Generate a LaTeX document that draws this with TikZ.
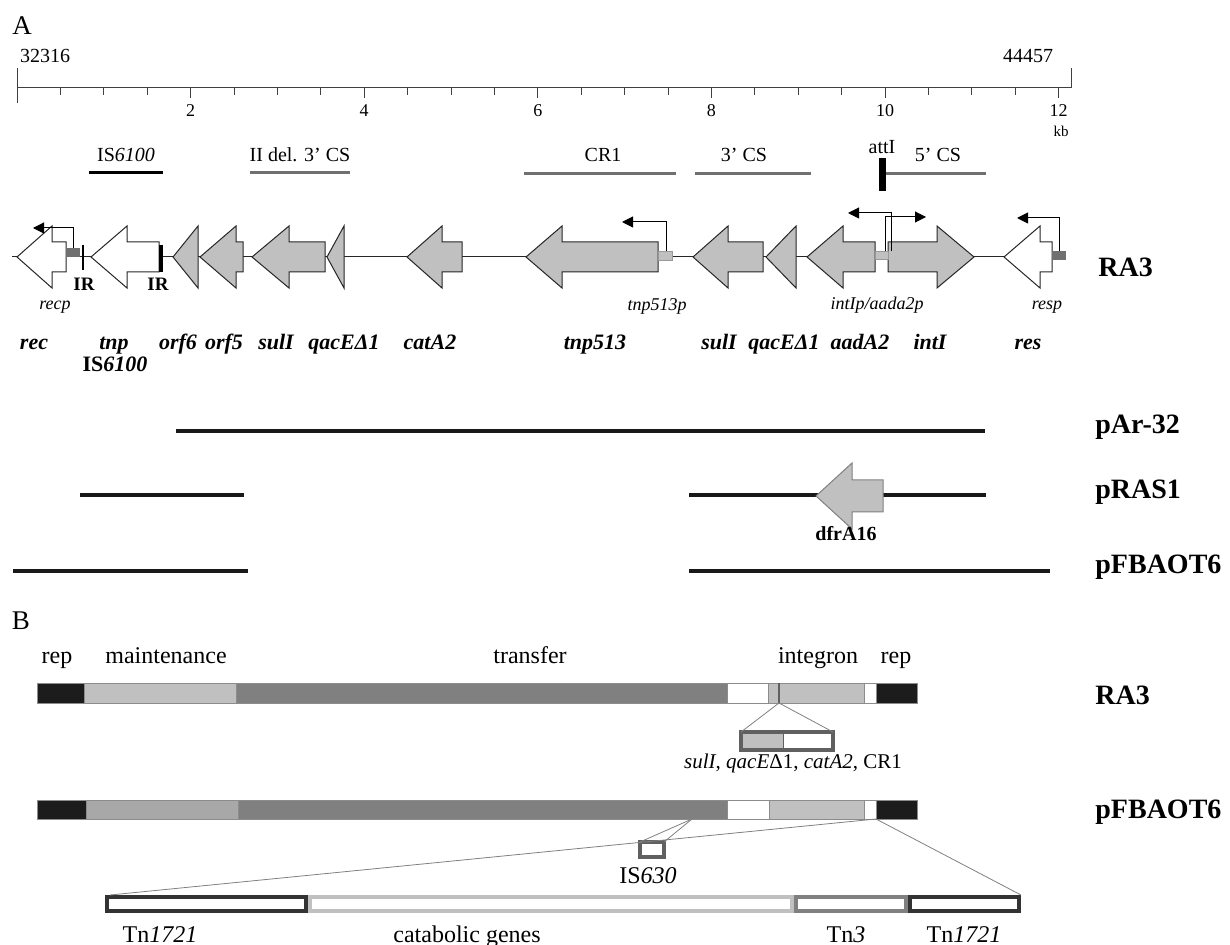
\documentclass[tikz,border=0pt]{standalone}
\usepackage{fontspec}
\setmainfont{Liberation Serif}
\usetikzlibrary{arrows.meta}
\usetikzlibrary{calc}

\definecolor{genegray}{HTML}{C0C0C0}
\definecolor{csgray}{HTML}{707070}
\definecolor{midgray}{HTML}{A8A8A8}
\definecolor{trgray}{HTML}{808080}
\definecolor{boxgray}{HTML}{606060}
\definecolor{tngray}{HTML}{333333}
\definecolor{repblack}{HTML}{1C1C1C}

\begin{document}
\begin{tikzpicture}[x=0.5pt,y=-0.5pt,
    every node/.style={inner sep=0pt,anchor=base},
    panel/.style={font=\fontsize{13.5}{16}\selectfont},
    endlab/.style={font=\fontsize{10}{12}\selectfont},
    ticklab/.style={font=\fontsize{9}{11}\selectfont},
    reglab/.style={font=\fontsize{10}{12}\selectfont},
    genelab/.style={font=\fontsize{11}{13}\selectfont\bfseries\itshape},
    promlab/.style={font=\fontsize{9}{11}\selectfont\itshape},
    irlab/.style={font=\fontsize{9.5}{11}\selectfont\bfseries},
    rowlab/.style={font=\fontsize{14}{16}\selectfont\bfseries,anchor=base west},
    seglab/.style={font=\fontsize{12}{14}\selectfont},
    axis/.style={draw=black!75,line width=0.5pt},
    regbar/.style={line width=1.5pt},
    gene/.style={draw=black!85,line width=0.5pt},
    prom/.style={line width=0.5pt,-{Triangle[length=5.5pt,width=5.5pt]}},
    cmpline/.style={line width=2.4pt,draw=black!90},
    seg/.style={draw=black!45,line width=0.5pt},
    zoomline/.style={draw=black!50,line width=0.4pt},
    framebox/.style={line width=1.6pt,draw=boxgray},
    tnbox/.style={line width=2pt,fill=white}
  ]

  \useasboundingbox (0,0) rectangle (1230,945);

  % panel letters
  \node[panel] (pA) at (22,35) {A};
  \node[panel] (pB) at (21,629) {B};

  % ruler
  \draw[axis] (17,68) -- (17,103);
  \draw[axis] (17,88) -- (1071,88) -- (1071,68);
  \node[endlab] (first) at (45,63) {32316};
  \node[endlab] (last) at (1028,63) {44457};

  % minor ticks, every 0.5 kb
  \foreach \k in {1,...,24}
    \draw[axis] ({17+43.4*\k},88) -- ({17+43.4*\k},95);

  % major ticks
  \foreach \k in {2,4,...,12}
  {
    \draw[axis] ({17+86.8*\k},88) -- ({17+86.8*\k},98);
    \node[ticklab] (t\k) at ({17+86.8*\k},117) {\k};
  }
  \node[ticklab,font=\fontsize{7.5}{9}\selectfont] (kb) at (1061,137) {kb};

  % regions
  \draw[regbar,black] (89,173) -- (163,173);
  \node[reglab] (is) at (126,162) {IS\textit{6100}};
  \draw[regbar,csgray] (250,173) -- (350,173);
  \node[reglab] (del) at (300,162) {II del. 3’ CS};
  \draw[regbar,csgray] (524,174) -- (676,174);
  \node[reglab] (cr) at (603,162) {CR1};
  \draw[regbar,csgray] (695,174) -- (811,174);
  \node[reglab] (cs3) at (744,162) {3’ CS};
  \fill (879,158) rectangle (886,191);
  \node[reglab] (att) at (882,154) {attI};
  \draw[regbar,csgray] (886,174) -- (986,174);
  \node[reglab] (cs5) at (938,162) {5’ CS};

  % backbone and genes
  \draw[gene] (12,257) -- (1004,257);
  \foreach \tip/\rear/\shaft/\col in {
    17/52/66/white, 91/127/159/white, 173/198/198/genegray,
    200/236/243/genegray, 252/289/325/genegray, 327/344/344/genegray,
    407/442/462/genegray, 526/562/658/genegray, 693/728/763/genegray,
    766/796/796/genegray, 807/843/875/genegray, 974/937/888/genegray,
    1004/1040/1052/white}
    \draw[gene,fill=\col] (\tip,257) -- (\rear,226) -- (\rear,242) -- (\shaft,242)
      -- (\shaft,272) -- (\rear,272) -- (\rear,288) -- cycle;

  % promoters
  \fill[csgray] (66,248) rectangle (80,257);
  \filldraw[fill=genegray,draw=black!40,line width=0.4pt] (658,251) rectangle (672,260);
  \filldraw[fill=genegray,draw=black!40,line width=0.4pt] (875,251) rectangle (888,259);
  \fill[csgray] (1052,251) rectangle (1066,260);
  \coordinate (recpbox) at (73,248);
  \coordinate (tnppbox) at (666,251);
  \coordinate (intpbox) at (891,251);
  \coordinate (aadpbox) at (885,251);
  \coordinate (respbox) at (1059,251);
  \draw[prom] (recpbox) |- (33,228);
  \draw[prom] (tnppbox) |- (622,222);
  \draw[prom] (intpbox) |- (848,213);
  \draw[prom] (aadpbox) |- (926,217);
  \draw[prom] (respbox) |- (1017,218);
  \node[promlab] (recp) at (55,310) {recp};
  \node[promlab] (tnpp) at (657,311) {tnp513p};
  \node[promlab] (intp) at (877,310) {intIp/aada2p};
  \node[promlab] (resp) at (1047,310) {resp};

  % inverted repeats
  \draw[line width=1.4pt] (83,245) -- (83,270);
  \draw[line width=1.6pt] (161,245) -- (161,272);
  \node[irlab] (ir1) at (84,291) {IR};
  \node[irlab] (ir2) at (158,291) {IR};

  % gene names
  \foreach \x/\g in {34/rec, 114/tnp, 178/orf6, 224/orf5, 276/sulI, 344/qacEΔ1,
    430/catA2, 595/tnp513, 719/sulI, 784/qacEΔ1, 860/aadA2, 930/intI, 1028/res}
    \node[genelab] (g\x) at (\x,350) {\g};
  \node[genelab,font=\fontsize{11}{13}\selectfont\bfseries] (isname) at (115,372) {IS\textit{6100}};
  \node[rowlab] (ra3top) at (1098,277) {RA3};

  % related plasmids
  \draw[cmpline] (176,431) -- (985,431);
  \draw[cmpline] (80,495) -- (244,495);
  \draw[cmpline] (689,495) -- (986,495);
  \draw[gene,draw=trgray,fill=genegray] (816,496) -- (852,463) -- (852,480) -- (883,480)
    -- (883,512) -- (852,512) -- (852,529) -- cycle;
  \node[font=\fontsize{10}{12}\selectfont\bfseries] (dfr) at (846,541) {dfrA16};
  \draw[cmpline] (13,571) -- (248,571);
  \draw[cmpline] (689,571) -- (1050,571);
  \node[rowlab] (par) at (1095,434) {pAr-32};
  \node[rowlab] (pras) at (1095,499) {pRAS1};
  \node[rowlab] (pfb) at (1095,574) {pFBAOT6};

  % B: module labels
  \node[seglab] (rep1) at (57,663) {rep};
  \node[seglab] (maint) at (166,663) {maintenance};
  \node[seglab] (trans) at (530,663) {transfer};
  \node[seglab] (integ) at (818,663) {integron};
  \node[seglab] (rep2) at (896,663) {rep};

  % B: RA3 backbone
  \foreach \a/\b/\c in {37/84/repblack, 84/236/genegray, 236/727/trgray, 727/768/white,
    768/779/genegray, 779/864/genegray, 864/876/white, 876/917/repblack}
    \draw[seg,fill=\c] (\a,683) rectangle (\b,703);
  \draw[boxgray,line width=0.8pt] (779,683) -- (779,703);
  \node[rowlab] (ra3bot) at (1095,704) {RA3};

  % B: RA3 insert
  \fill[genegray] (741,732) rectangle (783,750);
  \draw[boxgray,line width=0.4pt] (783,732) -- (783,750);
  \draw[framebox] (741,732) rectangle (833,750);
  \coordinate (ra3cut) at (779,703);
  \coordinate (insW) at (741,732);
  \coordinate (insE) at (833,732);
  \draw[zoomline] (ra3cut) -- (insW);
  \draw[zoomline] (ra3cut) -- (insE);
  \node[seglab,font=\fontsize{10.5}{12}\selectfont] (cass) at (793,768)
    {\textit{sulI}, \textit{qacE}Δ1, \textit{catA2}, CR1};

  % B: pFBAOT6 backbone
  \foreach \a/\b/\c in {37/86/repblack, 86/238/midgray, 238/727/trgray, 727/769/white,
    769/864/genegray, 864/876/white, 876/917/repblack}
    \draw[seg,fill=\c] (\a,800) rectangle (\b,819);
  \node[rowlab] (pfbbot) at (1095,818) {pFBAOT6};

  % B: IS630 insert
  \draw[framebox,fill=white] (640,842) rectangle (664,857);
  \coordinate (iscut) at (692,819);
  \coordinate (isW) at (640,842);
  \coordinate (isE) at (664,842);
  \draw[zoomline] (iscut) -- (isW);
  \draw[zoomline] (iscut) -- (isE);
  \node[seglab] (is630) at (648,883) {IS\textit{630}};

  % B: catabolic insert
  \foreach \a/\b/\c in {105/308/tngray, 308/794/genegray, 794/908/trgray, 908/1021/tngray}
    \draw[tnbox,draw=\c] (\a+2,897) rectangle (\b-2,911);
  \coordinate (catcut) at (876,819);
  \coordinate (catW) at (110,895);
  \coordinate (catE) at (1021,895);
  \draw[zoomline] (catcut) -- (catW);
  \draw[zoomline] (catcut) -- (catE);
  \node[seglab] (tnl) at (160,942) {Tn\textit{1721}};
  \node[seglab] (cat) at (467,942) {catabolic genes};
  \node[seglab] (tn3) at (846,942) {Tn\textit{3}};
  \node[seglab] (tnr) at (964,942) {Tn\textit{1721}};

\end{tikzpicture}
\end{document}
